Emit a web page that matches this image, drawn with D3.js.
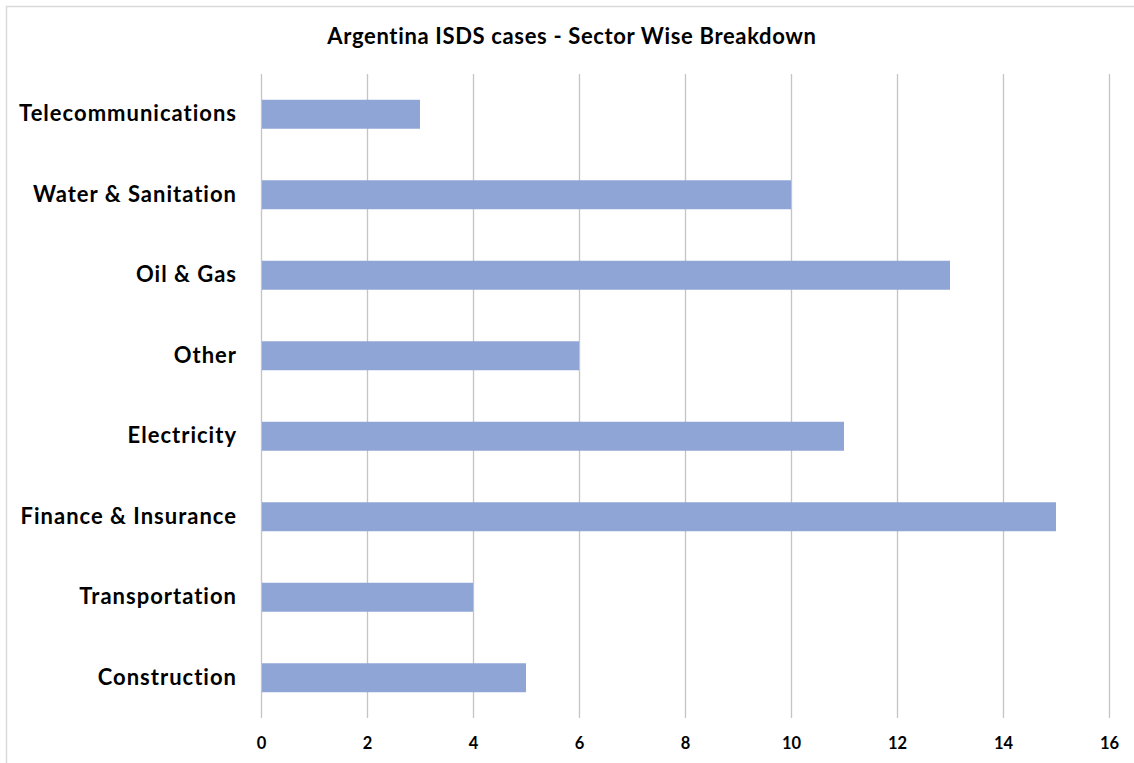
<!DOCTYPE html>
<html><head><meta charset="utf-8">
<script src="https://cdn.jsdelivr.net/npm/d3@7"></script>
<style>body{margin:0;background:#fff}svg{display:block}</style>
</head><body>
<script>
const categories = ["Telecommunications","Water & Sanitation","Oil & Gas","Other","Electricity","Finance & Insurance","Transportation","Construction"];
const values = [3,10,13,6,11,15,4,5];
const xTicks = [0,2,4,6,8,10,12,14,16];
const title = "Argentina ISDS cases - Sector Wise Breakdown";

const W = 1134, H = 763;
const m = {left:261, right:W-1109, top:74, bottom:H-718};
const svg = d3.select("body").append("svg").attr("width",W).attr("height",H);
const font = "Lato, 'Open Sans', sans-serif";

svg.append("rect").attr("x",6.5).attr("y",6.5).attr("width",W+10).attr("height",H+10)
  .attr("fill","#fff").attr("stroke","#d9d9d9").attr("stroke-width",1.5);

const x = d3.scaleLinear().domain([0,16]).range([m.left, W-m.right]);
const y = d3.scaleBand().domain(categories).range([m.top, H-m.bottom]).paddingInner(0.64).paddingOuter(0.32);

svg.append("g").selectAll("line").data(xTicks).join("line")
  .attr("x1",d=>Math.round(x(d))+0.5).attr("x2",d=>Math.round(x(d))+0.5)
  .attr("y1",m.top).attr("y2",H-m.bottom)
  .attr("stroke","#c4c4c4").attr("stroke-width",1.3);

svg.append("g").selectAll("rect").data(categories).join("rect")
  .attr("x",x(0)+1).attr("y",d=>y(d))
  .attr("width",(d,i)=>x(values[i])-x(0)-1).attr("height",y.bandwidth())
  .attr("fill","#8FA5D5");

const xAxis = svg.append("g").attr("transform",`translate(0,${H-m.bottom})`)
  .call(d3.axisBottom(x).tickValues(xTicks).tickSize(0).tickPadding(19));
xAxis.select(".domain").remove();
xAxis.selectAll("text").attr("font-family",font).attr("font-weight","bold").attr("font-size",16.5).attr("fill","#000");

const yAxis = svg.append("g").attr("transform",`translate(${m.left},0)`)
  .call(d3.axisLeft(y).tickSize(0).tickPadding(24));
yAxis.select(".domain").remove();
yAxis.selectAll("text").attr("font-family",font).attr("font-weight","bold").attr("font-size",22)
  .attr("letter-spacing","1px").attr("fill","#000");

svg.append("text").attr("x",572).attr("y",44).attr("text-anchor","middle")
  .attr("font-family",font).attr("font-weight","bold").attr("font-size",22).attr("letter-spacing","0.65px").attr("fill","#000")
  .text(title);
</script>
</body></html>
